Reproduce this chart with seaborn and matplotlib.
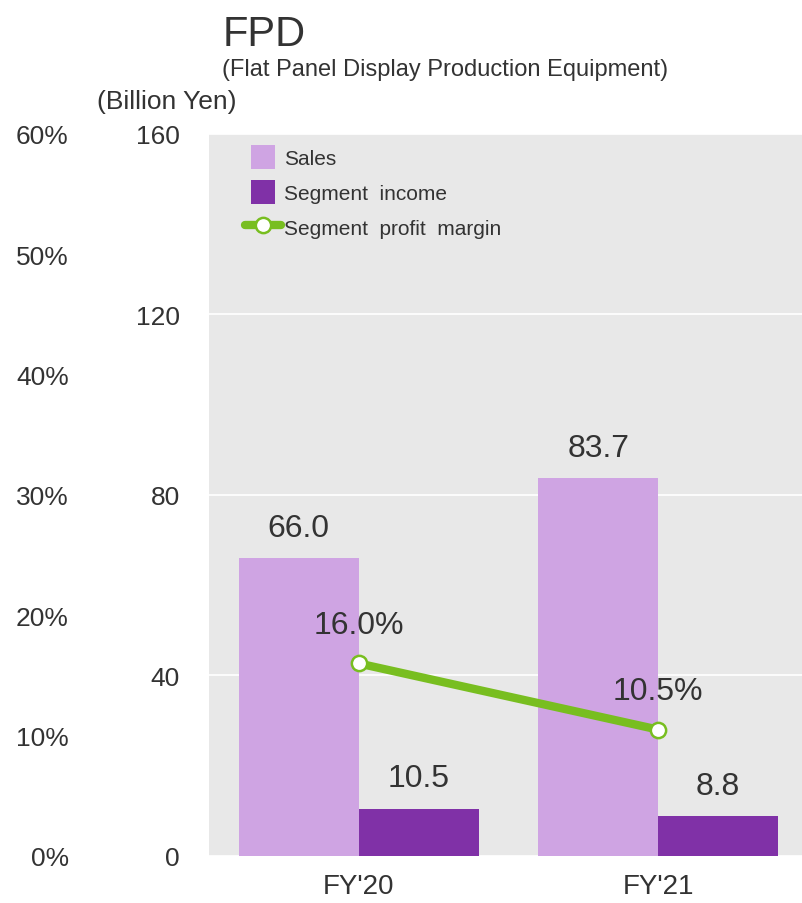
import numpy as np
import pandas as pd
import matplotlib
matplotlib.use('Agg')
import matplotlib.pyplot as plt
from matplotlib.patches import Patch, Rectangle
from matplotlib.lines import Line2D
from matplotlib.legend_handler import HandlerPatch
import seaborn as sns

# chart data
years = ["FY'20", "FY'21"]
sales = [66.0, 83.7]
income = [10.5, 8.8]
margin = [16.0, 10.5]

C_SALES = '#cfa4e3'
C_INCOME = '#8031a7'
C_LINE = '#78be20'
TXT = '#333333'

sns.set_style('darkgrid', {'axes.facecolor': '#e8e8e8', 'grid.color': 'white'})
plt.rcParams['font.family'] = ['Liberation Sans', 'DejaVu Sans']
plt.rcParams['text.color'] = TXT

df = pd.DataFrame({
    'Year': years * 2,
    'Value': sales + income,
    'Series': ['Sales'] * len(years) + ['Segment income'] * len(years),
})

fig = plt.figure(figsize=(8.02, 9.04), dpi=100)
ax = fig.add_axes([0.2606, 0.052, 0.7394, 0.7987])

sns.barplot(data=df, x='Year', y='Value', hue='Series', ax=ax,
            palette={'Sales': C_SALES, 'Segment income': C_INCOME},
            width=0.8, saturation=1, legend=False, edgecolor='none')

for cont in ax.containers:
    ax.bar_label(cont, fmt='%.1f', padding=11, fontsize=23, color=TXT)

ax.set_ylim(0, 160)
ax.set_yticks([0, 40, 80, 120, 160])
ax.set_xlim(-0.5, 1.48)
ax.set_xlabel('')
ax.set_ylabel('')
ax.grid(axis='x', visible=False)
ax.grid(axis='y', color='white', linewidth=1.2)
for s in ax.spines.values():
    s.set_visible(False)
ax.tick_params(axis='y', length=0, pad=21, labelsize=19, labelcolor=TXT)
ax.tick_params(axis='x', length=0, pad=12, labelsize=20, labelcolor=TXT)

# profit margin on a second (percent) scale, labels on the far left
ax2 = ax.twinx()
ax2.plot(range(len(years)), margin, color=C_LINE, linewidth=6,
         marker='o', markersize=11, markerfacecolor='white',
         markeredgecolor=C_LINE, markeredgewidth=1.8, zorder=5)
for i, m in enumerate(margin):
    ax2.annotate(f'{m:.1f}%', (i, m), xytext=(0, 17), textcoords='offset points',
                 ha='center', va='bottom', fontsize=23, color=TXT)
ax2.set_ylim(0, 60)
ax2.set_yticks(np.arange(0, 61, 10))
ax2.set_yticklabels([f'{t}%' for t in range(0, 61, 10)])
ax2.yaxis.tick_left()
ax2.tick_params(axis='y', length=0, pad=101, labelsize=19, labelcolor=TXT)
ax2.grid(False)
for s in ax2.spines.values():
    s.set_visible(False)


# square swatches, narrower than the line handle
def square(legend, orig_handle, xdescent, ydescent, width, height, fontsize):
    side = 24 * 0.72
    return Rectangle((-xdescent + (width - side) / 2, -ydescent + (height - side) / 2),
                     side, side)


handles = [
    Patch(facecolor=C_SALES, edgecolor='none'),
    Patch(facecolor=C_INCOME, edgecolor='none'),
    Line2D([0], [0], color=C_LINE, linewidth=6, marker='o', markersize=11,
           markerfacecolor='white', markeredgecolor=C_LINE, markeredgewidth=1.8),
]
leg = ax2.legend(handles, ['Sales', 'Segment  income', 'Segment  profit  margin'],
                 loc='upper left', bbox_to_anchor=(0.06, 0.984), frameon=False,
                 fontsize=15, handlelength=1.75, handleheight=1.3,
                 handletextpad=0.15, labelspacing=0.6, borderpad=0, borderaxespad=0,
                 handler_map={Patch: HandlerPatch(patch_func=square)})
for t in leg.get_texts():
    t.set_color(TXT)

fig.text(0.277, 0.949, 'FPD', fontsize=30, color=TXT, ha='left', va='baseline')
fig.text(0.277, 0.916, '(Flat Panel Display Production Equipment)', fontsize=17,
         color=TXT, ha='left', va='baseline')
fig.text(0.121, 0.8794, '(Billion Yen)', fontsize=19, color=TXT, ha='left', va='baseline')

fig.savefig('out.png', dpi=100)
